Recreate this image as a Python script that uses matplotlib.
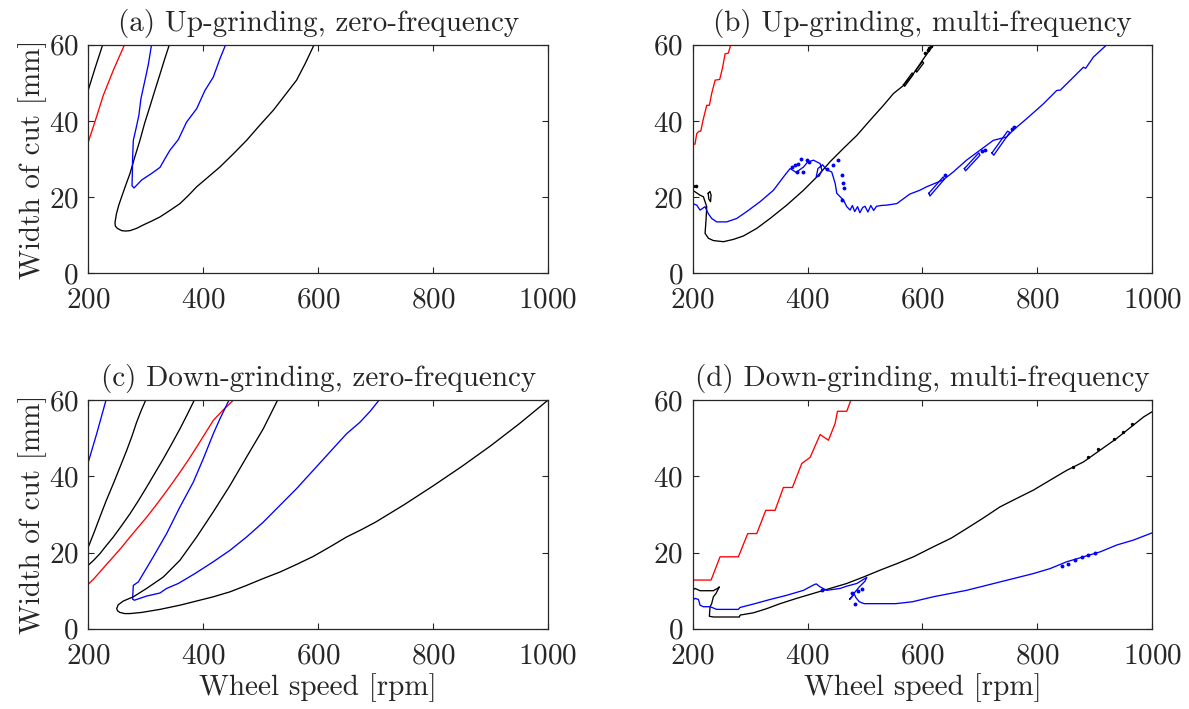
import matplotlib
matplotlib.use('Agg')
import matplotlib.pyplot as plt

plt.rcParams['font.family'] = 'cmr10'
plt.rcParams['mathtext.fontset'] = 'cm'
plt.rcParams['axes.formatter.use_mathtext'] = True
plt.rcParams['font.size'] = 21

# ---------------- (a) Up-grinding, zero-frequency ----------------
a_k1_x = [200, 212, 225]
a_k1_y = [48.2, 54, 60]
a_r_x = [200, 213, 226, 244, 263]
a_r_y = [34.5, 40.5, 46.7, 53.5, 60]
a_k2_x = [341, 333, 325, 316, 307, 298, 290, 281, 272.5, 265, 258, 253, 249, 246.4, 247, 250.5,
          258, 265, 272.5, 284, 295.7, 310, 324.7, 342, 359.5, 374, 388.5, 408, 429, 452,
          475.5, 498, 522, 542, 562.5, 578, 593]
a_k2_y = [60, 56.3, 52.4, 48.1, 43.7, 39.4, 35, 30.6, 26.2, 23.1, 20.1, 17.9, 15.7, 13.3, 12.4,
          11.8, 11.2, 11.1, 11.2, 11.8, 12.7, 13.7, 14.8, 16.5, 18.3, 20.4, 22.7, 25.2, 27.9,
          31.3, 34.9, 38.8, 42.8, 46.7, 50.7, 55.2, 60]
a_b_x = [310, 304.4, 298.6, 291.6, 288, 283, 278.3, 277, 276.6, 276, 279.5, 284, 292.8,
         310, 324.7, 333.4, 342, 356.6, 371, 388.5, 403, 417.5, 429, 439]
a_b_y = [60, 54.8, 50.7, 45.9, 41.5, 38, 34.9, 30.1, 26.2, 23, 22.4, 23.1, 24.5,
         26.2, 27.8, 30.1, 32.3, 35.1, 39.7, 43.2, 48, 51.5, 56.3, 60]

# ---------------- (b) Up-grinding, multi-frequency ----------------
b_r_x = [200, 204, 207, 211, 214, 218, 224.4, 229, 233, 239, 247, 252, 256.3, 262, 266.2]
b_r_y = [33.9, 33.9, 36.7, 37.3, 37.3, 40.2, 44.1, 44.1, 47.2, 50.7, 50.9, 54, 57.6, 57.8, 60]
b_k_x = [200, 207, 212.8, 218.6, 224.4, 223.2, 221.5, 227.3, 236, 253.4, 270.8, 288.2, 311.5,
         334.7, 363.7, 392.8, 416, 439.2, 462.4, 485.7, 508.9, 532.1, 549.5, 566.9, 584.3,
         601.7, 616.3, 619]
b_k_y = [21.8, 21.1, 20.5, 20.1, 17.5, 14, 10.5, 9.2, 8.6, 8.3, 8.9, 9.8, 11.8,
         14.4, 17.9, 21.8, 25.3, 29.3, 32.8, 36.2, 40.2, 44.1, 47.2, 49.3, 52.4,
         56.3, 59.4, 60]
b_k_loops = [
    ([227, 230, 232, 231, 228, 227], [21, 21.5, 20.5, 18.8, 19.5, 21]),
    ([567, 582, 584, 569, 567], [49.5, 52.6, 52.2, 49.1, 49.5]),
    ([588, 600, 602, 590, 588], [53.2, 55.6, 55.2, 52.8, 53.2]),
]
b_k_dots_x = [201, 206, 605, 609, 612, 615]
b_k_dots_y = [22.9, 22.9, 57.9, 58.6, 59.2, 59.7]
b_b_x = [200, 207, 212.8, 221.5, 227, 233, 241.8, 259.2, 276.6, 294, 317.3, 340.5, 358, 369.6,
         380, 392.8, 400, 410.2, 421.8, 425, 420, 415, 418, 426, 433, 442, 448, 450.8, 456.6,
         462.4, 468.2, 474, 478, 482, 487, 491, 496, 500, 505, 510, 515, 520, 528, 537.9,
         555.3, 577.9, 595.3, 607, 636, 653.5, 676.7, 700, 723.3, 746.5, 758, 781.4, 804.6,
         810.5, 833.7, 840, 862.8, 880.2, 884, 897.7, 920.9]
b_b_y = [18.3, 17.9, 16.6, 17.5, 15.7, 14.4, 13.5, 13.5, 14.4, 16.2, 18.8, 21.8, 25.3, 27.5,
         26.5, 27.9, 29.2, 29.7, 28.8, 27, 25.5, 25.3, 27.5, 28.5, 27.2, 26.6, 23.6, 21, 20.1,
         19.2, 17.5, 16.6, 17.8, 16.2, 17.5, 15.9, 17.3, 17.6, 16.1, 17.8, 16.5, 17.6, 17.8, 17.9,
         18.3, 20.8, 21.8, 22.7, 24.5, 26.6, 29.7, 32.3, 34.9, 35.8, 37.6, 40.6, 43.7,
         44.5, 48, 48.1, 51.5, 54.1, 53.8, 56.8, 60]
b_b_loops = [
    ([611, 636, 638, 613, 611], [21.0, 25.3, 24.7, 20.3, 21.0]),
    ([673, 698, 700, 675, 673], [27.5, 31.6, 31.0, 26.9, 27.5]),
    ([721, 748, 752, 724, 721], [31.6, 37.3, 37.0, 31.0, 31.6]),
]
b_b_dots_x = [372.4, 378, 384, 388.7, 381, 392, 398.6, 403, 433.4, 445, 453.7, 460.7, 462.4,
              463.5, 459.5, 640, 704, 708, 755, 759]
b_b_dots_y = [27.8, 28.4, 28.8, 30.1, 26.5, 26.5, 29.7, 29.2, 27.5, 28.4, 29.7, 25.8, 23.6,
              22.3, 19.2, 25.8, 32.0, 32.4, 38.0, 38.4]

# ---------------- (c) Down-grinding, zero-frequency ----------------
c_b1_x = [200, 214.5, 230.7]
c_b1_y = [43.8, 51.2, 60]
c_k1_x = [200, 210, 220, 231, 243.5, 255, 266.7, 276, 284, 292, 299.8]
c_k1_y = [21.5, 25.3, 29.3, 33.6, 38.1, 42.4, 46.8, 50.6, 54.2, 57.3, 60]
c_k2_x = [200, 210, 220, 231, 243.5, 258, 272.5, 287, 301.5, 316, 330.5, 345, 359.5, 372, 384.4]
c_k2_y = [16.7, 18.1, 19.7, 21.8, 24.1, 27.1, 30.2, 33.6, 37.2, 40.9, 44.6, 48.5, 52.5, 56.2, 60]
c_r_x = [200, 210, 220, 231, 243.5, 258, 272.5, 287, 301.5, 316, 330.5, 345, 359.5, 374,
         388.5, 403, 417.5, 435, 452.4]
c_r_y = [11.7, 13.2, 14.9, 16.8, 18.9, 21.4, 24.1, 26.7, 29.3, 32.1, 35, 38, 41.1, 44.3,
         47.7, 51.2, 54.7, 57.5, 60]
c_b2_x = [444.8, 429, 417.5, 400, 382.7, 359.5, 336.3, 313, 295.7, 287, 278.3, 277, 280, 301.5,
          324.7, 336.3, 356.6, 385.6, 417.5, 446.5, 475.5, 504.5, 533.5, 562.5, 591.5, 620.5,
          649.5, 672.7, 690, 706]
c_b2_y = [60, 55.1, 51.2, 44.6, 38.5, 32, 25, 18.9, 14.5, 12.3, 11.4, 7.8, 7.5, 8.6,
          9.4, 10.6, 11.9, 14.5, 17.6, 20.6, 24.1, 28, 32.4, 36.8, 41.6, 46.4,
          51.2, 54.2, 57, 60]
c_k3_x = [529.4, 504.5, 475.5, 446.5, 417.5, 388.5, 359.5, 330.5, 301.5, 278.3, 261, 252,
          249.3, 251, 255, 263, 272.5, 292.8, 324.7, 359.5, 388.5, 417.5, 446.5, 475.5, 504.5,
          533.5, 562.5, 591.5, 620.5, 649.5, 675, 700, 750, 800, 850, 900, 950, 1000]
c_k3_y = [60, 52.5, 45.1, 37.6, 30.7, 24.1, 18, 13.6, 10.6, 8.4, 7.3, 6.3, 5.3, 4.7, 4.3, 4.0,
          4, 4.3, 5.1, 6.2, 7.3, 8.4, 9.7, 11.4, 13.2, 14.9, 16.9, 19, 21.5, 24.1,
          26.0, 28, 32.6, 37.5, 42.6, 48, 53.8, 60]

# ---------------- (d) Down-grinding, multi-frequency ----------------
d_r_x = [200, 232, 247.6, 279.5, 295.8, 311.5, 327.2, 343.4, 357.9, 373.6, 389.9, 404.4, 421.8,
         436.3, 447.9, 452, 468.2, 475.2]
d_r_y = [12.8, 12.8, 18.9, 18.9, 25, 25, 31.1, 31.1, 37.1, 37.1, 43.4, 45, 51,
         49.5, 53.9, 57.1, 57.1, 60]
d_k_x = [200, 204, 212.8, 236, 243, 246.4, 240.6, 236, 233, 230.2, 229, 236, 281.3, 282.4, 305.7,
         328.9, 352.1, 381.1, 410.2, 439.2, 468.2, 497.3, 526.3, 555.3, 584.3, 618.6, 650,
         676.7, 705, 734.9, 765, 793, 822, 851.1, 880.2, 909.3, 938.3, 967.4, 984.8, 1000]
d_k_y = [10.1, 10.6, 10, 10, 10.6, 11, 9.3, 8.4, 6.6, 5.8, 3.3, 3.1, 3.1, 3.6, 4.2,
         5.3, 6.6, 8, 9.3, 10.6, 11.9, 13.6, 15.4, 17.1, 18.9, 21.5, 23.8, 26.3, 29.0,
         32, 34.3, 36.4, 39, 41.6, 43.8, 46.9, 50, 53.5, 55.6, 57]
d_k_dots_x = [862.8, 889, 906.4, 932.6, 948.8, 964.5]
d_k_dots_y = [42.4, 45.0, 47.2, 49.8, 51.6, 53.8]
d_b_x = [200, 204, 210, 212.8, 218.6, 230.2, 241.8, 279.5, 282.4, 305.7, 334.7, 363.7, 392.8,
         410.2, 415, 421.8, 433.4, 456.6, 468.2, 485.7, 503, 500, 490, 482.8, 477, 472.9, 476,
         481, 484, 490, 498.4, 524.3, 553.3, 582.4, 618.6, 676.7, 734.9, 793, 822, 851.1,
         880.2, 909.3, 938.3, 967.4, 1000]
d_b_y = [7.5, 8, 7.7, 6.2, 5.8, 5.8, 5.1, 5.1, 5.6, 6.5, 7.7, 8.8, 10.1,
         11.5, 11.8, 11, 10.1, 10.6, 11.2, 11.9, 13.5, 12.5, 11, 9.7, 8.4, 7.7, 8.2,
         9.2, 8.2, 7.1, 6.6, 6.6, 6.6, 7.1, 8.4, 10.1, 12.3, 14.5, 15.8, 17.6,
         18.9, 20.2, 22, 23.3, 25.2]
d_b_dots_x = [424.7, 478, 487, 495, 482.5, 842.4, 854, 866, 877.3, 888.9, 900.5]
d_b_dots_y = [10.3, 9.5, 10, 10.5, 6.6, 16.4, 17, 18, 18.9, 19.5, 19.9]

titles = ['(a) Up-grinding, zero-frequency', '(b) Up-grinding, multi-frequency',
          '(c) Down-grinding, zero-frequency', '(d) Down-grinding, multi-frequency']

K, R, B = '#000000', '#ff0000', '#0000ff'
LW = 0.95
TXT = '#262626'

fig = plt.figure(figsize=(11.89, 7.09), dpi=100)
lefts = [0.0743, 0.5826]
bottoms = [0.6145, 0.1131]
w, h = 0.3865, 0.3224
axs = []
for r in range(2):
    for c in range(2):
        axs.append(fig.add_axes([lefts[c], bottoms[r], w, h]))

# curves
ax = axs[0]
ax.plot(a_k1_x, a_k1_y, color=K, lw=LW)
ax.plot(a_r_x, a_r_y, color=R, lw=LW)
ax.plot(a_k2_x, a_k2_y, color=K, lw=LW)
ax.plot(a_b_x, a_b_y, color=B, lw=LW)

ax = axs[1]
ax.plot(b_r_x, b_r_y, color=R, lw=LW)
ax.plot(b_k_x, b_k_y, color=K, lw=LW)
for lx, ly in b_k_loops:
    ax.plot(lx, ly, color=K, lw=LW)
ax.plot(b_k_dots_x, b_k_dots_y, 'o', color=K, ms=1.6)
ax.plot(b_b_x, b_b_y, color=B, lw=LW)
for lx, ly in b_b_loops:
    ax.plot(lx, ly, color=B, lw=LW)
ax.plot(b_b_dots_x, b_b_dots_y, 'o', color=B, ms=1.8)

ax = axs[2]
ax.plot(c_b1_x, c_b1_y, color=B, lw=LW)
ax.plot(c_k1_x, c_k1_y, color=K, lw=LW)
ax.plot(c_k2_x, c_k2_y, color=K, lw=LW)
ax.plot(c_r_x, c_r_y, color=R, lw=LW)
ax.plot(c_b2_x, c_b2_y, color=B, lw=LW)
ax.plot(c_k3_x, c_k3_y, color=K, lw=LW)

ax = axs[3]
ax.plot(d_r_x, d_r_y, color=R, lw=LW)
ax.plot(d_k_x, d_k_y, color=K, lw=LW)
ax.plot(d_k_dots_x, d_k_dots_y, 'o', color=K, ms=1.4)
ax.plot(d_b_x, d_b_y, color=B, lw=LW)
ax.plot(d_b_dots_x, d_b_dots_y, 'o', color=B, ms=1.8)

for i, ax in enumerate(axs):
    ax.set_xlim(200, 1000)
    ax.set_ylim(0, 60)
    ax.set_xticks([200, 400, 600, 800, 1000])
    ax.set_yticks([0, 20, 40, 60])
    ax.tick_params(direction='in', top=True, right=True, length=4, width=0.8,
                   colors=TXT, labelsize=21)
    ax.tick_params(axis='x', pad=10)
    ax.tick_params(axis='y', pad=7)
    for s in ax.spines.values():
        s.set_color(TXT)
        s.set_linewidth(0.9)
    ax.set_title(titles[i], fontsize=21, pad=10, color=TXT)
    if i % 2 == 0:
        ax.set_ylabel('Width of cut [mm]', fontsize=21, color=TXT, labelpad=1)
    if i >= 2:
        ax.set_xlabel('Wheel speed [rpm]', fontsize=21, color=TXT, labelpad=3)

fig.savefig('out.png', dpi=100)
